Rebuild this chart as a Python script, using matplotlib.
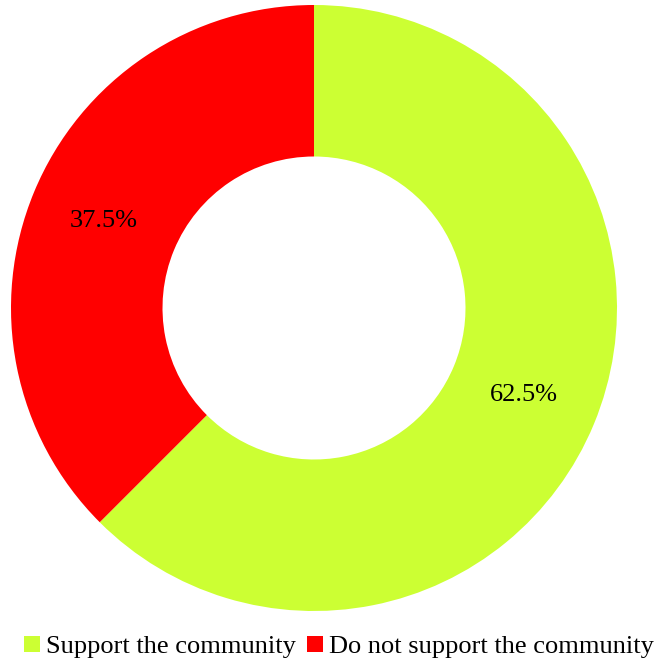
import matplotlib.pyplot as plt

# community support share
labels = ['Support the community', 'Do not support the community']
shares = [62.5, 37.5]
colors = ['#CCFF33', '#FF0000']

plt.rcParams['font.family'] = ['Liberation Serif', 'DejaVu Serif']

fig = plt.figure(figsize=(6.58, 6.62), dpi=100)
ax = fig.add_axes([11 / 658, 51 / 662, 606 / 658, 606 / 662])

wedges, texts, autotexts = ax.pie(
    shares, colors=colors, startangle=90, counterclock=False,
    autopct='%.1f%%', pctdistance=0.75,
    wedgeprops=dict(width=0.5, linewidth=0),
    textprops=dict(fontsize=19, color='black'))

ax.set_xlim(-1, 1)
ax.set_ylim(-1, 1)
ax.set_aspect('equal')

fig.legend(wedges, labels, loc='center', bbox_to_anchor=(339 / 658, 1 - 647 / 662),
           ncol=2, frameon=False, fontsize=19,
           handlelength=0.6, handleheight=0.6, handletextpad=0.25,
           columnspacing=0.4, borderpad=0)

fig.savefig('out.png', dpi=100)
